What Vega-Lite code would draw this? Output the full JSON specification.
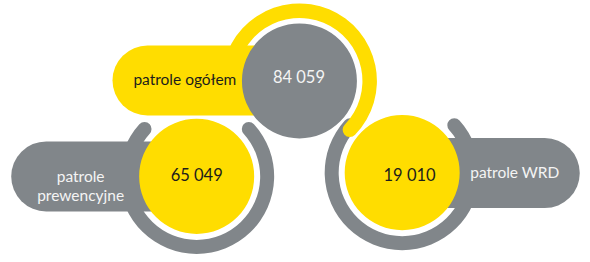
{
  "$schema": "https://vega.github.io/schema/vega-lite/v6.json",
  "width": 590,
  "height": 262,
  "padding": 0,
  "autosize": {"type": "none"},
  "background": "#ffffff",
  "config": {"view": {"stroke": null}},
  "datasets": {
    "rings": [
      {"kategoria": "patrole prewencyjne", "cx": 200, "cy": 188.5, "start": 42, "end": 318},
      {"kategoria": "patrole WRD", "cx": 409, "cy": 184.5, "start": 42, "end": 318},
      {"kategoria": "patrole ogółem", "cx": 304.5, "cy": 86.5, "start": -95, "end": 140}
    ],
    "pills": [
      {"kategoria": "patrole prewencyjne", "x1": 47, "x2": 190, "cy": 188.5},
      {"kategoria": "patrole WRD", "x1": 420, "x2": 554, "cy": 185},
      {"kategoria": "patrole ogółem", "x1": 150, "x2": 300, "cy": 86}
    ],
    "circles": [
      {"kategoria": "patrole prewencyjne", "cx": 200, "cy": 188.5},
      {"kategoria": "patrole WRD", "cx": 409, "cy": 184.5},
      {"kategoria": "patrole ogółem", "cx": 304.5, "cy": 86.5}
    ],
    "labels": [
      {"kategoria": "patrole ogółem", "rola": "nazwa", "tekst": "patrole ogółem", "x": 188, "y": 86},
      {"kategoria": "patrole ogółem", "rola": "liczba", "tekst": "84 059", "x": 304, "y": 83},
      {"kategoria": "patrole prewencyjne", "rola": "nazwa", "tekst": "patrole\nprewencyjne", "x": 82, "y": 189},
      {"kategoria": "patrole prewencyjne", "rola": "liczba", "tekst": "65 049", "x": 200, "y": 188.5},
      {"kategoria": "patrole WRD", "rola": "nazwa", "tekst": "patrole WRD", "x": 523.5, "y": 185},
      {"kategoria": "patrole WRD", "rola": "liczba", "tekst": "19 010", "x": 416.5, "y": 188}
    ]
  },
  "layer": [
    {
      "data": {"name": "rings"},
      "transform": [{"filter": "datum.kategoria !== 'patrole ogółem'"}],
      "mark": {"type": "arc", "innerRadius": 63.5, "outerRadius": 77.5, "cornerRadius": 7, "color": "#81868a"},
      "encoding": {
        "x": {"field": "cx", "type": "quantitative", "scale": {"domain": [0, 590]}, "axis": null},
        "y": {"field": "cy", "type": "quantitative", "scale": {"domain": [0, 262], "reverse": true}, "axis": null},
        "theta": {"field": "start", "type": "quantitative", "stack": null, "scale": {"domain": [0, 360], "range": [0, 6.283185307]}},
        "theta2": {"field": "end"}
      }
    },
    {
      "data": {"name": "pills"},
      "transform": [{"filter": "datum.kategoria !== 'patrole ogółem'"}],
      "mark": {"type": "rule", "strokeWidth": 70, "strokeCap": "round", "color": "#81868a"},
      "encoding": {
        "x": {"field": "x1", "type": "quantitative"},
        "x2": {"field": "x2"},
        "y": {"field": "cy", "type": "quantitative"}
      }
    },
    {
      "data": {"name": "circles"},
      "transform": [{"filter": "datum.kategoria !== 'patrole ogółem'"}],
      "mark": {"type": "point", "shape": "circle", "filled": true, "size": 13225, "opacity": 1, "color": "#ffdd00", "strokeWidth": 0},
      "encoding": {
        "x": {"field": "cx", "type": "quantitative"},
        "y": {"field": "cy", "type": "quantitative"}
      }
    },
    {
      "data": {"name": "rings"},
      "transform": [{"filter": "datum.kategoria === 'patrole ogółem'"}],
      "mark": {"type": "arc", "innerRadius": 63, "outerRadius": 77.5, "cornerRadius": 7.25, "color": "#ffdd00"},
      "encoding": {
        "x": {"field": "cx", "type": "quantitative"},
        "y": {"field": "cy", "type": "quantitative"},
        "theta": {"field": "start", "type": "quantitative", "stack": null},
        "theta2": {"field": "end"}
      }
    },
    {
      "data": {"name": "pills"},
      "transform": [{"filter": "datum.kategoria === 'patrole ogółem'"}],
      "mark": {"type": "rule", "strokeWidth": 70, "strokeCap": "round", "color": "#ffdd00"},
      "encoding": {
        "x": {"field": "x1", "type": "quantitative"},
        "x2": {"field": "x2"},
        "y": {"field": "cy", "type": "quantitative"}
      }
    },
    {
      "data": {"name": "circles"},
      "transform": [{"filter": "datum.kategoria === 'patrole ogółem'"}],
      "mark": {"type": "point", "shape": "circle", "filled": true, "size": 13225, "opacity": 1, "color": "#81868a", "strokeWidth": 0},
      "encoding": {
        "x": {"field": "cx", "type": "quantitative"},
        "y": {"field": "cy", "type": "quantitative"}
      }
    },
    {
      "data": {"name": "labels"},
      "transform": [{"filter": "(datum.kategoria === 'patrole ogółem') === (datum.rola === 'nazwa')"}],
      "mark": {"type": "text", "font": "Lato", "color": "#1d1d1b", "align": "center", "baseline": "middle", "lineBreak": "\n", "lineHeight": 19},
      "encoding": {
        "x": {"field": "x", "type": "quantitative"},
        "y": {"field": "y", "type": "quantitative"},
        "text": {"field": "tekst"},
        "size": {"condition": {"test": "datum.rola === 'nazwa'", "value": 15.5}, "value": 16.5}
      }
    },
    {
      "data": {"name": "labels"},
      "transform": [{"filter": "(datum.kategoria === 'patrole ogółem') !== (datum.rola === 'nazwa')"}],
      "mark": {"type": "text", "font": "Lato", "color": "#f4f4f4", "align": "center", "baseline": "middle", "lineBreak": "\n", "lineHeight": 19},
      "encoding": {
        "x": {"field": "x", "type": "quantitative"},
        "y": {"field": "y", "type": "quantitative"},
        "text": {"field": "tekst"},
        "size": {"condition": {"test": "datum.rola === 'nazwa'", "value": 15.5}, "value": 16.5}
      }
    }
  ]
}
